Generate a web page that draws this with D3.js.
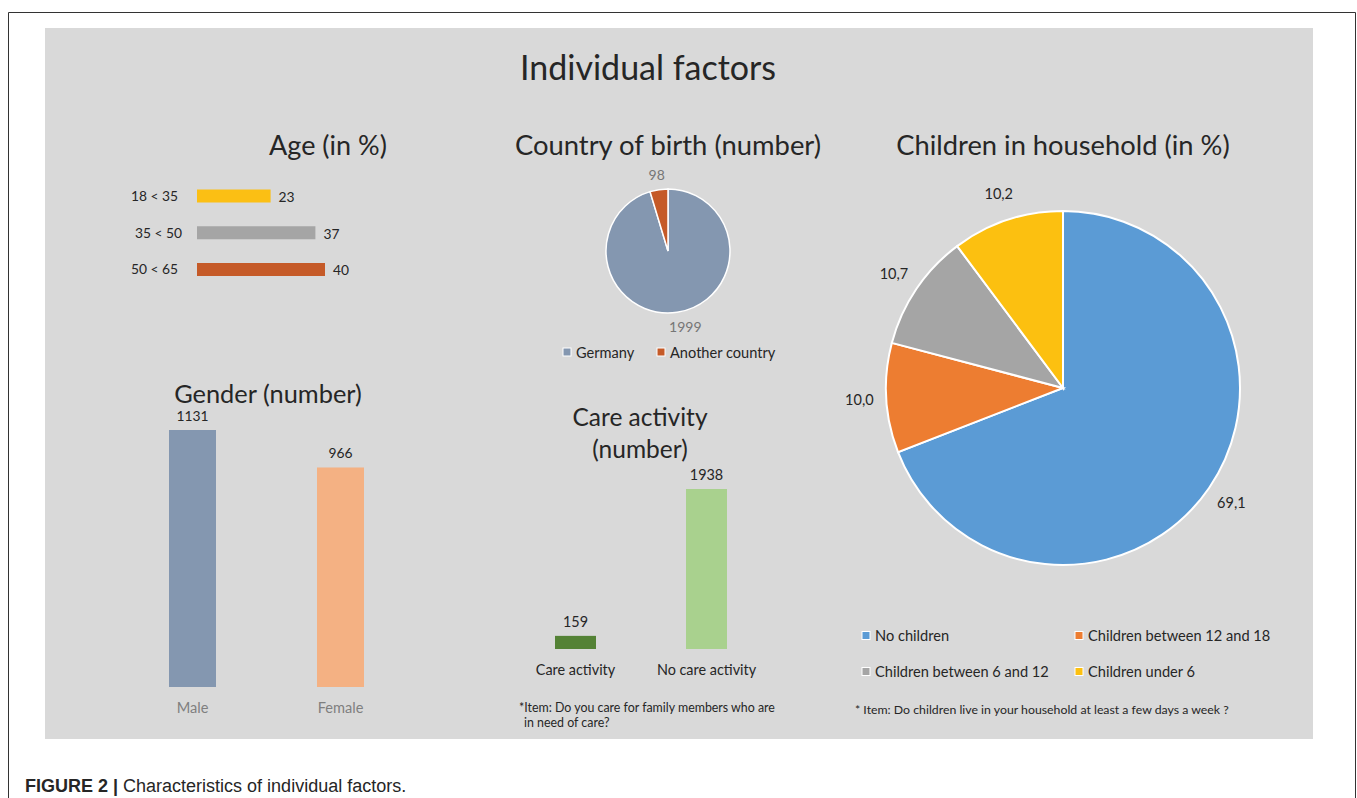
<!DOCTYPE html>
<html>
<head>
<meta charset="utf-8">
<script src="https://cdn.jsdelivr.net/npm/d3@7"></script>
<style>
  body { margin: 0; background: #fff; }
  svg text { font-family: Lato, "Open Sans", sans-serif; fill: #262626; }
</style>
</head>
<body>
<svg id="fig" width="1357" height="798"></svg>
<script>
// age groups (in %)
var ageGroups = ["18 < 35", "35 < 50", "50 < 65"];
var ageValues = [23, 37, 40];
var ageColors = ["#fbbf14", "#a5a5a5", "#c55a28"];

// country of birth (number)
var countries = ["Germany", "Another country"];
var countryValues = [1999, 98];
var countryColors = ["#8497b0", "#c55a28"];

// gender (number)
var genders = ["Male", "Female"];
var genderValues = [1131, 966];
var genderColors = ["#8497b0", "#f4b183"];

// care activity (number)
var careCats = ["Care activity", "No care activity"];
var careValues = [159, 1938];
var careColors = ["#548235", "#a9d18e"];

// children in household (in %)
var childCats = ["No children", "Children between 12 and 18", "Children between 6 and 12", "Children under 6"];
var childValues = [69.1, 10.0, 10.7, 10.2];
var childLabels = ["69,1", "10,0", "10,7", "10,2"];
var childColors = ["#5b9bd5", "#ed7d31", "#a5a5a5", "#fcc010"];

var svg = d3.select("#fig");

// frame + panel
svg.append("path")
    .attr("d", "M8.5,798 V12.5 H1355.5 V798")
    .attr("fill", "none")
    .attr("stroke", "#333")
    .attr("stroke-width", 1);
svg.append("rect")
    .attr("x", 45).attr("y", 28)
    .attr("width", 1268).attr("height", 711)
    .attr("fill", "#d9d9d9");

function title(x, y, txt, size) {
    svg.append("text")
        .attr("x", x).attr("y", y)
        .attr("text-anchor", "middle")
        .style("font-size", size + "px")
        .text(txt);
}

title(648, 80, "Individual factors", 34);

// ---- Age ----
title(328, 155, "Age (in %)", 27);

var ax = d3.scaleLinear().domain([0, 40]).range([197, 325]);
var ay = d3.scalePoint().domain(ageGroups).range([196, 269.5]);

svg.selectAll(".agebar")
    .data(ageValues)
    .enter().append("rect")
    .attr("class", "agebar")
    .attr("x", ax(0))
    .attr("y", function (d, i) { return ay(ageGroups[i]) - 6.5; })
    .attr("width", function (d) { return ax(d) - ax(0); })
    .attr("height", 13)
    .attr("fill", function (d, i) { return ageColors[i]; });

svg.selectAll(".agecat")
    .data(ageGroups)
    .enter().append("text")
    .attr("x", function (d, i) { return i == 1 ? 182 : 178; })
    .attr("y", function (d) { return ay(d); })
    .attr("dy", "0.35em")
    .attr("text-anchor", "end")
    .style("font-size", "13.8px")
    .text(function (d) { return d; });

svg.selectAll(".ageval")
    .data(ageValues)
    .enter().append("text")
    .attr("x", function (d) { return ax(d) + 8; })
    .attr("y", function (d, i) { return ay(ageGroups[i]) + 1; })
    .attr("dy", "0.35em")
    .style("font-size", "13.8px")
    .text(function (d) { return d; });

// ---- Country of birth ----
title(668, 155, "Country of birth (number)", 27.4);

var pie = d3.pie().sort(null);
var cArc = d3.arc().innerRadius(0).outerRadius(62);
var cLab = d3.arc().innerRadius(77).outerRadius(77);
var cg = svg.append("g").attr("transform", "translate(668,251)");

cg.selectAll("path")
    .data(pie(countryValues))
    .enter().append("path")
    .attr("d", cArc)
    .attr("fill", function (d, i) { return countryColors[i]; })
    .attr("stroke", "#fff")
    .attr("stroke-width", 1.5);

cg.selectAll("text")
    .data(pie(countryValues))
    .enter().append("text")
    .attr("transform", function (d) {
        var c = cLab.centroid(d);
        return "translate(" + (c[0] + (d.index == 0 ? 6 : 0)) + "," + c[1] + ")";
    })
    .attr("dy", "0.35em")
    .attr("text-anchor", "middle")
    .style("font-size", "14px")
    .style("fill", "#767676")
    .text(function (d) { return d.data; });

var cLegX = [563, 657];
countries.forEach(function (c, i) {
    svg.append("rect")
        .attr("x", cLegX[i]).attr("y", 348)
        .attr("width", 8).attr("height", 8)
        .attr("fill", countryColors[i])
        .attr("stroke", "#fff").attr("stroke-width", 1);
    svg.append("text")
        .attr("x", cLegX[i] + 13).attr("y", 353)
        .attr("dy", "0.35em")
        .style("font-size", "14.6px")
        .text(c);
});

// ---- Gender ----
title(268, 403, "Gender (number)", 25.4);

var gy = d3.scaleLinear().domain([0, 1131]).range([687, 430]);
var gx = d3.scalePoint().domain(genders).range([192.5, 340.5]);

svg.selectAll(".gbar")
    .data(genderValues)
    .enter().append("rect")
    .attr("x", function (d, i) { return gx(genders[i]) - 23.5; })
    .attr("y", function (d) { return gy(d); })
    .attr("width", 47)
    .attr("height", function (d) { return gy(0) - gy(d); })
    .attr("fill", function (d, i) { return genderColors[i]; });

svg.selectAll(".gval")
    .data(genderValues)
    .enter().append("text")
    .attr("x", function (d, i) { return gx(genders[i]); })
    .attr("y", function (d) { return gy(d) - 9; })
    .attr("text-anchor", "middle")
    .style("font-size", "13.8px")
    .text(function (d) { return d; });

svg.selectAll(".gcat")
    .data(genders)
    .enter().append("text")
    .attr("x", function (d) { return gx(d); })
    .attr("y", 713)
    .attr("text-anchor", "middle")
    .style("font-size", "14.6px")
    .style("fill", "#7f7f7f")
    .text(function (d) { return d; });

// ---- Care activity ----
title(640, 426, "Care activity", 24.5);
title(640, 458, "(number)", 24.5);

var ky = d3.scaleLinear().domain([0, 1938]).range([649, 489]);
var kx = d3.scalePoint().domain(careCats).range([575.5, 706.5]);

svg.selectAll(".kbar")
    .data(careValues)
    .enter().append("rect")
    .attr("x", function (d, i) { return kx(careCats[i]) - 20.5; })
    .attr("y", function (d) { return ky(d); })
    .attr("width", 41)
    .attr("height", function (d) { return ky(0) - ky(d); })
    .attr("fill", function (d, i) { return careColors[i]; });

svg.selectAll(".kval")
    .data(careValues)
    .enter().append("text")
    .attr("x", function (d, i) { return kx(careCats[i]); })
    .attr("y", function (d) { return ky(d) - 9; })
    .attr("text-anchor", "middle")
    .style("font-size", "14.4px")
    .text(function (d) { return d; });

svg.selectAll(".kcat")
    .data(careCats)
    .enter().append("text")
    .attr("x", function (d) { return kx(d); })
    .attr("y", 675)
    .attr("text-anchor", "middle")
    .style("font-size", "14.4px")
    .text(function (d) { return d; });

svg.append("text").attr("x", 519).attr("y", 712)
    .style("font-size", "12.4px")
    .text("*Item: Do you care for family members who are");
svg.append("text").attr("x", 524).attr("y", 727)
    .style("font-size", "12.4px")
    .text("in need of care?");

// ---- Children in household ----
title(1063, 155, "Children in household (in %)", 27.3);

var hArc = d3.arc().innerRadius(0).outerRadius(177);
var hLab = d3.arc().innerRadius(204).outerRadius(204);
var hg = svg.append("g").attr("transform", "translate(1063,388)");

hg.selectAll("path")
    .data(pie(childValues))
    .enter().append("path")
    .attr("d", hArc)
    .attr("fill", function (d, i) { return childColors[i]; })
    .attr("stroke", "#fff")
    .attr("stroke-width", 2);

hg.selectAll("text")
    .data(pie(childValues))
    .enter().append("text")
    .attr("transform", function (d) { return "translate(" + hLab.centroid(d) + ")"; })
    .attr("dy", "0.35em")
    .attr("text-anchor", "middle")
    .style("font-size", "14.5px")
    .text(function (d, i) { return childLabels[i]; });

var hLegX = [862, 1075], hLegY = [636, 672];
childCats.forEach(function (c, i) {
    var lx = hLegX[i % 2], ly = hLegY[Math.floor(i / 2)];
    svg.append("rect")
        .attr("x", lx).attr("y", ly - 4.5)
        .attr("width", 8).attr("height", 8)
        .attr("fill", childColors[i])
        .attr("stroke", "#fff").attr("stroke-width", 1);
    svg.append("text")
        .attr("x", lx + 13).attr("y", ly)
        .attr("dy", "0.35em")
        .style("font-size", "14.6px")
        .text(c);
});

svg.append("text").attr("x", 855).attr("y", 714)
    .style("font-size", "12.3px")
    .text("* Item: Do children live in your household at least a few days a week ?");

// caption
var cap = svg.append("text")
    .attr("x", 25).attr("y", 792)
    .style("font-size", "18px")
    .style("font-family", "'Liberation Sans', Arial, sans-serif");
cap.append("tspan").style("font-weight", "bold").text("FIGURE 2 | ");
cap.append("tspan").text("Characteristics of individual factors.");
</script>
</body>
</html>
